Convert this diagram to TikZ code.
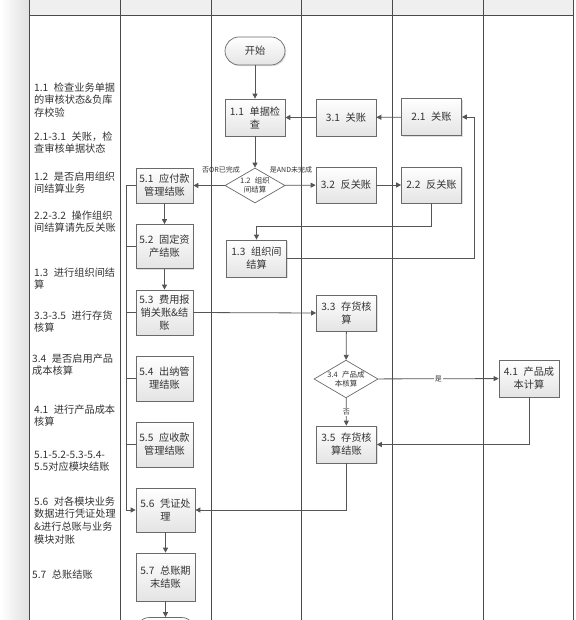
\documentclass[tikz,border=0pt]{standalone}
\usepackage{fontspec}
\setmainfont{Noto Sans CJK SC}
\usetikzlibrary{arrows.meta,shapes.geometric,shadows}
\definecolor{boxline}{HTML}{6A6A6A}
\definecolor{boxbot}{HTML}{E4E4E4}
\definecolor{connc}{HTML}{555555}
\definecolor{lanec}{HTML}{4A4A4A}
\definecolor{txt}{HTML}{333333}
\definecolor{headgray}{HTML}{EFEFEF}
\newcommand\boxfont{\fontsize{10.2}{13}\selectfont}
\newcommand\notefont{\fontsize{10.2}{12.6}\selectfont}
\newcommand\elfont{\fontsize{7}{8}\selectfont}
\newcommand\diafont{\fontsize{7.5}{9}\selectfont}
\newcommand\gap{\hspace{0.55em}}
\tikzset{
  box/.style={draw=boxline, line width=0.7pt, top color=white, bottom color=boxbot,
    align=center, font=\boxfont, text=txt, inner sep=1pt,
    minimum width=60pt, minimum height=37pt,
    drop shadow={shadow xshift=1.2pt, shadow yshift=-1.2pt, opacity=0.25}},
  term/.style={box, rounded corners=14pt, minimum height=28pt},
  dia/.style={diamond, draw=boxline, line width=0.7pt, fill=white, align=center,
    font=\diafont, text=txt, inner sep=0pt, shape aspect=1.7,
    minimum width=60pt, minimum height=35pt},
  conn/.style={draw=connc, line width=0.8pt, -{Triangle[length=5pt,width=5pt]}},
  plainline/.style={draw=connc, line width=0.8pt},
  lane/.style={draw=lanec, line width=0.9pt},
  note/.style={anchor=north west, align=left, inner sep=0pt, font=\notefont, text=txt},
  elabel/.style={font=\elfont, text=txt, inner sep=1pt},
}
\begin{document}
\begin{tikzpicture}[x=1pt,y=-1pt]
\useasboundingbox (0,0) rectangle (575,620);
% left shadow strip
\shade[left color=white, right color=black!12] (0,0) rectangle (29,620);
% header band
\fill[headgray] (29,0) rectangle (573,15);
% swimlane lines
\foreach \x in {29,120,211,301,392,483,573} \draw[lane] (\x,0) -- (\x,620);
\draw[lane] (29,15) -- (573,15);

% left notes
\node[note] (n1) at (34,82.5) {1.1\gap 检查业务单据\\的审核状态\&负库\\存校验};
\node[note] (n2) at (34,131.5) {2.1-3.1\gap 关账，检\\查审核单据状态};
\node[note] (n3) at (34,171.5) {1.2\gap 是否启用组织\\间结算业务};
\node[note] (n4) at (34,210.5) {2.2-3.2\gap 操作组织\\间结算请先反关账};
\node[note] (n5) at (34,267.5) {1.3\gap 进行组织间结\\算};
\node[note] (n6) at (34,310.5) {3.3-3.5\gap 进行存货\\核算};
\node[note] (n7) at (32,353.5) {3.4\gap 是否启用产品\\成本核算};
\node[note] (n8) at (34,404.5) {4.1\gap 进行产品成本\\核算};
\node[note] (n9) at (34,450.5) {5.1-5.2-5.3-5.4-\\5.5对应模块结账};
\node[note] (n10) at (34,496.5) {5.6\gap 对各模块业务\\数据进行凭证处理\\\&进行总账与业务\\模块对账};
\node[note] (n11) at (32,569.5) {5.7\gap 总账结账};

% nodes
\node[term] (start) at (255,51) {开始};
\node[box] (b11) at (255,117.5) {1.1\gap 单据检\\查};
\node[box] (b31) at (346,117.5) {3.1\gap 关账};
\node[box] (b21) at (431.5,117) {2.1\gap 关账};
\node[dia] (d12) at (255,185.5) {1.2\gap 组织\\间结算};
\node[box, minimum height=36pt] (b32) at (346,185) {3.2\gap 反关账};
\node[box, minimum height=36pt] (b22) at (431.5,185) {2.2\gap 反关账};
\node[box] (b13) at (256.5,258.5) {1.3\gap 组织间\\结算};
\node[box, minimum width=57pt, minimum height=35pt] (b51) at (164.5,185.5) {5.1\gap 应付款\\管理结账};
\node[box, minimum width=57pt, minimum height=44pt] (b52) at (164.5,246.5) {5.2\gap 固定资\\产结账};
\node[box, minimum width=57pt, minimum height=45pt] (b53) at (164.5,312.5) {5.3\gap 费用报\\销关账\&结\\账};
\node[box, minimum width=57pt, minimum height=45pt] (b54) at (164.5,378.5) {5.4\gap 出纳管\\理结账};
\node[box, minimum width=57pt, minimum height=45pt] (b55) at (164.5,444.5) {5.5\gap 应收款\\管理结账};
\node[box, minimum width=59pt, minimum height=44pt] (b56) at (165.5,510) {5.6\gap 凭证处\\理};
\node[box, minimum width=59pt, minimum height=48pt] (b57) at (165.5,577) {5.7\gap 总账期\\末结账};
\node[term] (endn) at (165.5,631.5) {};
\node[box, minimum height=36pt] (b33) at (346.5,313) {3.3\gap 存货核\\算};
\node[dia] (d34) at (346,379) {3.4\gap 产品成\\本核算};
\node[box] (b41) at (529,378.5) {4.1\gap 产品成\\本计算};
\node[box] (b35) at (346.5,444.5) {3.5\gap 存货核\\算结账};

% connectors, top part
\draw[conn] (start) -- (b11);
\draw[conn] (b31) -- (b11);
\draw[conn] (b21) -- (b31);
\draw[conn] (b11) -- (d12);
\draw[conn] (d12) -- (b32);
\draw[conn] (b32) -- (b22);
\draw[conn] (d12) -- (b51);
\node[elabel] (l1) at (221,170) {否OR已完成};
\node[elabel] (l2) at (291,169.5) {是AND未完成};
\coordinate (j1) at (256.5,226);
\draw[conn] (b22.south) |- (j1) -- (b13.north);
\coordinate (j2) at (474,258.5);
\draw[conn] (b13.east) -- (j2) |- (b21.east);

% 5.x column
\draw[conn] (b51) -- (b52);
\draw[conn] (b52) -- (b53);
\coordinate (bus) at (126,510);
\draw[conn] (b51.west) -| (bus) -- (b56.west);
\draw[plainline] (b52.west) -- (b52.west -| bus);
\draw[plainline] (b53.west) -- (b53.west -| bus);
\draw[plainline] (b54.west) -- (b54.west -| bus);
\draw[plainline] (b55.west) -- (b55.west -| bus);
\draw[conn] (b56) -- (b57);
\draw[conn] (b57) -- (endn);

% inventory part
\draw[conn] (b53.east) -- (b33.west);
\draw[conn] (b33) -- (d34);
\draw[conn] (d34) -- node[elabel, fill=white] (l3) {是} (b41);
\draw[conn] (d34) -- node[elabel, fill=white] (l4) {否} (b35);
\draw[conn] (b41.south) |- (b35.east);
\draw[conn] (b35.south) |- (b56.east);
\end{tikzpicture}
\end{document}
